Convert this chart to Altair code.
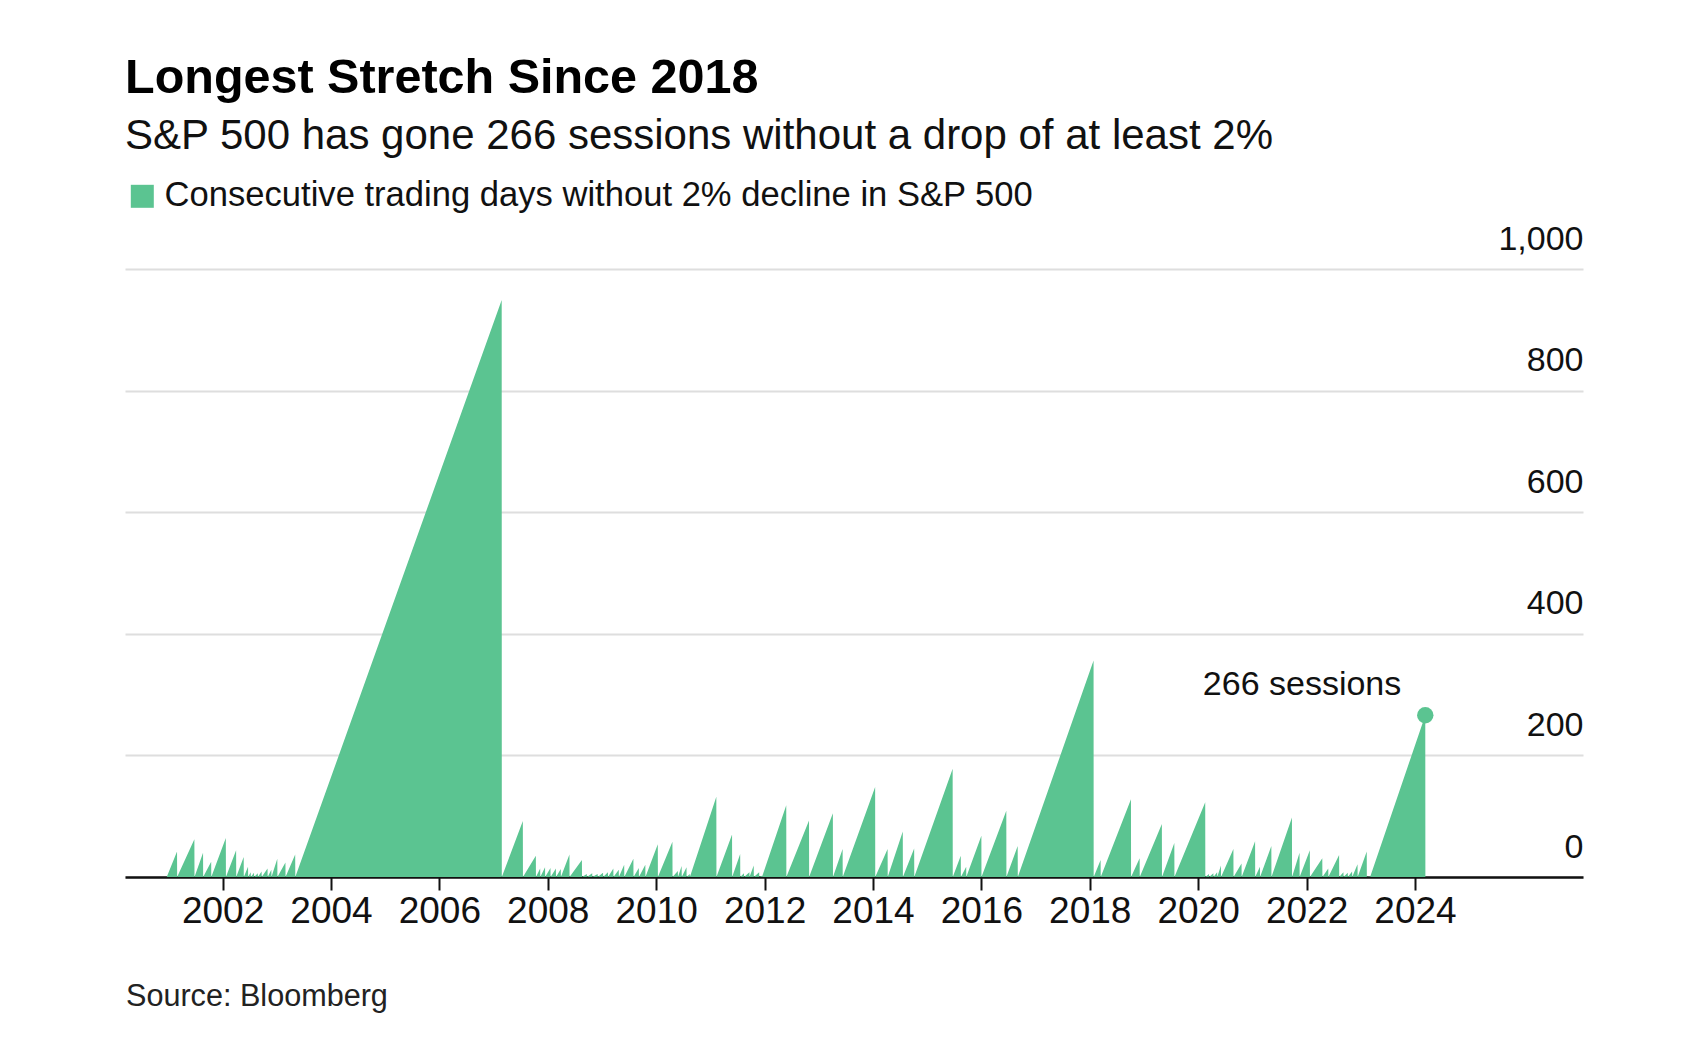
import altair as alt
import pandas as pd

FONT = "Liberation Sans"
GREEN = "#5BC491"

title_text = "Longest Stretch Since 2018"
subtitle_text = "S&P 500 has gone 266 sessions without a drop of at least 2%"
legend_label = "Consecutive trading days without 2% decline in S&P 500"
source_text = "Source: Bloomberg"

# x axis tick labels (years)
tick_years = list(range(2002, 2025, 2))
# y axis tick values
tick_sessions = [0, 200, 400, 600, 800, 1000]

# Start of the series (decimal year)
start_year = 2000.97
# Each streak: date when it ended (decimal year) and its length in sessions
spike_years = [
    2001.16, 2001.48, 2001.64, 2001.79, 2002.06, 2002.25, 2002.39, 2002.47,
    2002.52, 2002.58, 2002.65, 2002.72, 2002.83, 2002.90, 2003.01, 2003.16, 2003.34,
    2007.15, 2007.54, 2007.78, 2007.86, 2007.95, 2008.05, 2008.15, 2008.24,
    2008.40, 2008.63, 2008.72, 2008.82, 2008.92, 2009.02, 2009.11,
    2009.21, 2009.31, 2009.41, 2009.58, 2009.68, 2009.80, 2010.03, 2010.30,
    2010.40, 2010.47, 2010.56, 2010.62,
    2011.11, 2011.40, 2011.55, 2011.62, 2011.72, 2011.80, 2011.90, 2011.95,
    2012.40, 2012.82, 2013.26, 2013.44, 2014.04, 2014.27, 2014.55, 2014.76,
    2015.47, 2015.62, 2015.72, 2016.00, 2016.46, 2016.67,
    2018.07, 2018.20, 2018.76, 2018.92, 2019.33, 2019.56,
    2020.13, 2020.20, 2020.28, 2020.35, 2020.42, 2020.65, 2020.80,
    2021.05, 2021.14, 2021.35, 2021.73, 2021.87,
    2022.06, 2022.29, 2022.40, 2022.60, 2022.68, 2022.76, 2022.84, 2022.94,
    2023.11, 2023.17, 2024.19,
]
spike_peaks = [
    42, 62, 40, 25, 64, 44, 33, 17,
    8, 7, 6, 9, 14, 12, 30, 24, 37,
    949, 92, 35, 14, 16, 15, 14, 13,
    37, 28, 5, 6, 5, 7, 8,
    14, 12, 20, 30, 15, 20, 54, 58,
    10, 18, 16, 5,
    132, 70, 38, 6, 8, 19, 8, 2,
    118, 93, 105, 46, 148, 46, 75, 47,
    178, 35, 17, 68, 109, 51,
    356, 28, 128, 31, 87, 56,
    123, 5, 6, 8, 19, 46, 22,
    59, 17, 51, 98, 40,
    44, 31, 14, 36, 8, 7, 9, 21,
    42, 1, 266,
]

# vertices of the sawtooth: rise to each peak, then reset to zero right after it
rows = [{"year": start_year, "sessions": 0}]
for yr, pk in zip(spike_years, spike_peaks):
    rows.append({"year": yr, "sessions": pk})
    rows.append({"year": yr + 0.002, "sessions": 0})
df = pd.DataFrame(rows)

latest = pd.DataFrame({
    "year": [spike_years[-1]],
    "sessions": [spike_peaks[-1]],
    "label": [f"{spike_peaks[-1]} sessions"],
    "series": [legend_label],
})
source_df = pd.DataFrame({"text": [source_text]})

x_scale = alt.Scale(domain=[2000.2, 2027.1], nice=False, zero=False)
y_scale = alt.Scale(domain=[0, 1000], nice=False)

x_axis = alt.Axis(
    values=tick_years, format="d", title=None, grid=False,
    labelFontSize=37, labelColor="#111", labelFont=FONT, labelPadding=3,
    tickSize=13, tickWidth=2, tickColor="#111",
    domainColor="#111", domainWidth=2.5, labelFlush=False)
y_axis = alt.Axis(
    orient="right", values=tick_sessions, format=",d", title=None,
    grid=True, gridColor="#dedede", gridWidth=2,
    domain=False, ticks=False, tickSize=0, labelPadding=0,
    labelAlign="right", labelBaseline="alphabetic", labelOffset=-20,
    labelFontSize=34, labelColor="#111", labelFont=FONT)

area = alt.Chart(df).mark_area(interpolate="linear", color=GREEN, opacity=1).encode(
    x=alt.X("year:Q", scale=x_scale, axis=x_axis),
    y=alt.Y("sessions:Q", stack=None, scale=y_scale, axis=y_axis),
)

point = alt.Chart(latest).mark_circle(size=270, opacity=1).encode(
    x=alt.X("year:Q", scale=x_scale),
    y=alt.Y("sessions:Q", scale=y_scale),
    color=alt.Color("series:N", scale=alt.Scale(domain=[legend_label], range=[GREEN]),
                    legend=alt.Legend(title=None, orient="none", legendX=0, legendY=-90,
                                      symbolType="square", symbolSize=529,
                                      symbolStrokeWidth=0, symbolOpacity=1,
                                      labelFontSize=34.6, labelFont=FONT, labelColor="#111",
                                      labelOffset=5, padding=0, labelLimit=2000)),
)

label = alt.Chart(latest).mark_text(
    align="right", baseline="alphabetic", dx=-24, dy=-20,
    fontSize=34, font=FONT, color="#111"
).encode(
    x=alt.X("year:Q", scale=x_scale),
    y=alt.Y("sessions:Q", scale=y_scale),
    text="label:N",
)

source = alt.Chart(source_df).mark_text(
    align="left", baseline="alphabetic", fontSize=30.6, font=FONT, color="#222"
).encode(
    x=alt.value(1), y=alt.value(737), text="text:N"
)

chart = alt.layer(area, point, label, source).properties(
    width=1458, height=608,
    autosize=alt.AutoSizeParams(type="none"),
    padding={"left": 117, "top": 261, "right": 109, "bottom": 170},
    title=alt.TitleParams(
        text=title_text, subtitle=subtitle_text, anchor="start", frame="group",
        font=FONT, fontSize=48.5, fontWeight="bold", color="#000",
        subtitleFont=FONT, subtitleFontSize=42, subtitleColor="#111",
        subtitlePadding=13, offset=21,
    ),
).configure(background="white").configure_view(stroke=None)

chart.save("out.html", embed_options={"renderer": "svg", "actions": False})
